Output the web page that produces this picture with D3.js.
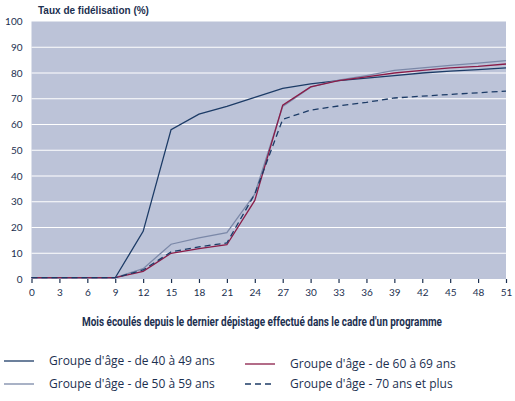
<!DOCTYPE html>
<html>
<head>
<meta charset="utf-8">
<script src="https://cdn.jsdelivr.net/npm/d3@7"></script>
<style>
  body { margin: 0; background: #fff; }
  svg { display: block; }
</style>
</head>
<body>
<div id="chart"></div>
<script>
// Taux de fidélisation selon le groupe d'âge

const months = [0, 3, 6, 9, 12, 15, 18, 21, 24, 27, 30, 33, 36, 39, 42, 45, 48, 51];
const yTicks = [0, 10, 20, 30, 40, 50, 60, 70, 80, 90, 100];

const grp4049 = [0.5, 0.5, 0.5, 0.5, 18.5, 58, 64, 67, 70.5, 74, 75.8, 77, 78, 79, 80, 80.7, 81.3, 82];
const grp5059 = [0.5, 0.5, 0.5, 0.5, 4, 13.5, 16, 18, 33, 67, 74.5, 77.2, 79, 81, 82, 83, 83.8, 84.8];
const grp6069 = [0.5, 0.5, 0.5, 0.5, 3, 10, 11.8, 13.3, 30.5, 67.5, 74.6, 77, 78.5, 80, 81, 82, 82.6, 83.5];
const grp70 = [0.5, 0.5, 0.5, 0.5, 3.5, 10.5, 12.5, 14, 33, 62, 65.6, 67.2, 68.6, 70.3, 71, 71.7, 72.3, 73];

const series = [
    { name: "Groupe d'âge - de 40 à 49 ans", values: grp4049, color: '#1c3b66', dash: null },
    { name: "Groupe d'âge - de 50 à 59 ans", values: grp5059, color: '#7b88a8', dash: null },
    { name: "Groupe d'âge - de 60 à 69 ans", values: grp6069, color: '#8a1c48', dash: null },
    { name: "Groupe d'âge - 70 ans et plus", values: grp70, color: '#1c3b66', dash: '6,4' }
];

const textColor = '#1c3050';
const W = 515, H = 401;

const x = d3.scaleLinear().domain([0, 51]).range([31.5, 506]);
const y = d3.scaleLinear().domain([0, 100]).range([279, 21.5]);

const svg = d3.select('#chart').append('svg')
    .attr('width', W)
    .attr('height', H);

// fond du graphique
svg.append('rect')
    .attr('x', x(0))
    .attr('y', y(100))
    .attr('width', x(51) - x(0))
    .attr('height', y(0) - y(100))
    .attr('fill', '#bcc3d8');

// lignes de grille
svg.append('g')
    .selectAll('line')
    .data(yTicks.filter(d => d > 0 && d < 100))
    .enter()
    .append('line')
    .attr('x1', x(0))
    .attr('x2', x(51))
    .attr('y1', d => y(d))
    .attr('y2', d => y(d))
    .attr('stroke', '#fff')
    .attr('stroke-width', 1.2);

// axe Y (étiquettes seulement)
const yAxis = svg.append('g')
    .attr('transform', `translate(${x(0)},0)`)
    .call(d3.axisLeft(y).tickValues(yTicks).tickSize(0).tickPadding(9));
yAxis.select('.domain').remove();
yAxis.selectAll('text')
    .attr('fill', textColor)
    .style('font-family', 'Lato, "Open Sans", sans-serif')
    .style('font-size', '10px');

// axe X
const xAxis = svg.append('g')
    .attr('transform', `translate(0,${y(0)})`)
    .call(d3.axisBottom(x).tickValues(months).tickSize(4).tickPadding(6));
xAxis.select('.domain').remove();
xAxis.selectAll('line').attr('stroke', textColor).attr('stroke-width', 1.2);
xAxis.selectAll('text')
    .attr('fill', textColor)
    .style('font-family', 'Lato, "Open Sans", sans-serif')
    .style('font-size', '10px');

// titre de l'axe Y
svg.append('text')
    .attr('x', 38)
    .attr('y', 14)
    .attr('fill', textColor)
    .style('font-family', '"Liberation Sans", Arial, sans-serif')
    .style('font-weight', 'bold')
    .style('font-size', '10px')
    .text('Taux de fidélisation (%)');

// titre de l'axe X (police condensée simulée)
svg.append('text')
    .attr('x', 82)
    .attr('y', 326)
    .attr('textLength', 360)
    .attr('lengthAdjust', 'spacingAndGlyphs')
    .attr('fill', textColor)
    .style('font-family', '"Roboto", "Liberation Sans", sans-serif')
    .style('font-weight', 'bold')
    .style('font-size', '12px')
    .text("Mois écoulés depuis le dernier dépistage effectué dans le cadre d'un programme");

// courbes
const line = d3.line()
    .x((d, i) => x(months[i]))
    .y(d => y(d));

svg.append('g')
    .selectAll('path')
    .data(series)
    .enter()
    .append('path')
    .attr('d', d => line(d.values))
    .attr('fill', 'none')
    .attr('stroke', d => d.color)
    .attr('stroke-width', 1.3)
    .attr('stroke-dasharray', d => d.dash);

// légende
const legendPos = [
    { lx: 4, ty: 365 },
    { lx: 4, ty: 388 },
    { lx: 245, ty: 368 },
    { lx: 245, ty: 388 }
];

const legend = svg.append('g')
    .selectAll('g')
    .data(series)
    .enter()
    .append('g')
    .attr('transform', (d, i) => `translate(${legendPos[i].lx},${legendPos[i].ty})`);

legend.append('line')
    .attr('x1', 0)
    .attr('x2', 30)
    .attr('y1', -4)
    .attr('y2', -4)
    .attr('stroke', d => d.color)
    .attr('stroke-width', 1.3)
    .attr('stroke-dasharray', d => d.dash);

legend.append('text')
    .attr('x', 45)
    .attr('y', 0)
    .attr('fill', textColor)
    .style('font-family', '"Open Sans", Lato, sans-serif')
    .style('font-size', '12px')
    .text(d => d.name);
</script>
</body>
</html>
